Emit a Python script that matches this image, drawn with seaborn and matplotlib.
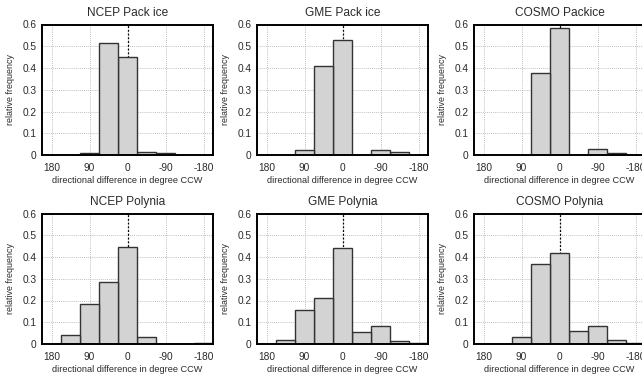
import numpy as np
import pandas as pd
import matplotlib
matplotlib.use("Agg")
import matplotlib.pyplot as plt
import seaborn as sns
from matplotlib.ticker import FuncFormatter

sns.set_style("white")
plt.rcParams['font.family'] = ['Liberation Sans', 'DejaVu Sans']
plt.rcParams['axes.unicode_minus'] = False

# bin centres (degrees, CCW)
centers = [180, 135, 90, 45, 0, -45, -90, -135, -180]
titles = ["NCEP Pack ice", "GME Pack ice", "COSMO Packice",
          "NCEP Polynia", "GME Polynia", "COSMO Polynia"]
ncep_pack = [0.0, 0.0, 0.010, 0.515, 0.452, 0.015, 0.007, 0.0, 0.0]
gme_pack = [0.0, 0.0, 0.025, 0.410, 0.528, 0.0, 0.025, 0.012, 0.0]
cosmo_pack = [0.0, 0.0, 0.0, 0.378, 0.585, 0.0, 0.027, 0.010, 0.0]
ncep_poly = [0.0, 0.040, 0.182, 0.287, 0.445, 0.032, 0.001, 0.002, 0.004]
gme_poly = [0.0, 0.018, 0.158, 0.212, 0.442, 0.057, 0.085, 0.015, 0.003]
cosmo_poly = [0.0, 0.0, 0.032, 0.370, 0.418, 0.060, 0.085, 0.020, 0.005]
series = [ncep_pack, gme_pack, cosmo_pack, ncep_poly, gme_poly, cosmo_poly]
xticks = [180, 90, 0, -90, -180]
yticks = [0, 0.1, 0.2, 0.3, 0.4, 0.5, 0.6]

bin_width = 45
edges = [float(e) for e in np.arange(-202.5, 202.5 + 1, bin_width)]

fig = plt.figure(figsize=(6.42, 3.76), dpi=100)
lefts = [42 / 642, 257 / 642, 474 / 642]
bottoms = [1 - 155 / 376, 1 - 344 / 376]
w = 171 / 642
h = 130.5 / 376

for i, (title, vals) in enumerate(zip(titles, series)):
    r, c = divmod(i, 3)
    ax = fig.add_axes([lefts[c], bottoms[r], w, h])
    df = pd.DataFrame({"angle": centers, "freq": vals})
    ax.grid(True, color="#a8a8a8", linestyle=(0, (1, 1.5)), linewidth=0.6)
    ax.set_axisbelow(True)
    ax.axvline(0, color="black", linestyle=(0, (1.5, 1.5)), linewidth=0.9, zorder=1)
    sns.histplot(data=df, x="angle", weights="freq", bins=edges, ax=ax,
                 stat="count", color="#d3d3d3", alpha=1.0,
                 edgecolor="#333333", linewidth=1.0, zorder=2)
    ax.set_xlim(202.5, -202.5)
    ax.set_ylim(0, 0.6)
    ax.set_xticks(xticks)
    ax.set_yticks(yticks)
    ax.yaxis.set_major_formatter(FuncFormatter(lambda v, p: "0" if v == 0 else f"{v:.1f}"))
    ax.tick_params(axis="both", labelsize=7.3, length=0, colors="#2a2a2a")
    ax.tick_params(axis="x", pad=5.5)
    ax.tick_params(axis="y", pad=4)
    ax.set_title(title, fontsize=8.6, pad=6, color="#2a2a2a")
    ax.set_xlabel("directional difference in degree CCW", fontsize=6.6, labelpad=2.5, color="#2a2a2a")
    ax.set_ylabel("relative frequency", fontsize=6.4, labelpad=5, color="#2a2a2a")
    for s in ax.spines.values():
        s.set_visible(True)
        s.set_color("black")
        s.set_linewidth(1.4)

fig.savefig("out.png", dpi=100)
